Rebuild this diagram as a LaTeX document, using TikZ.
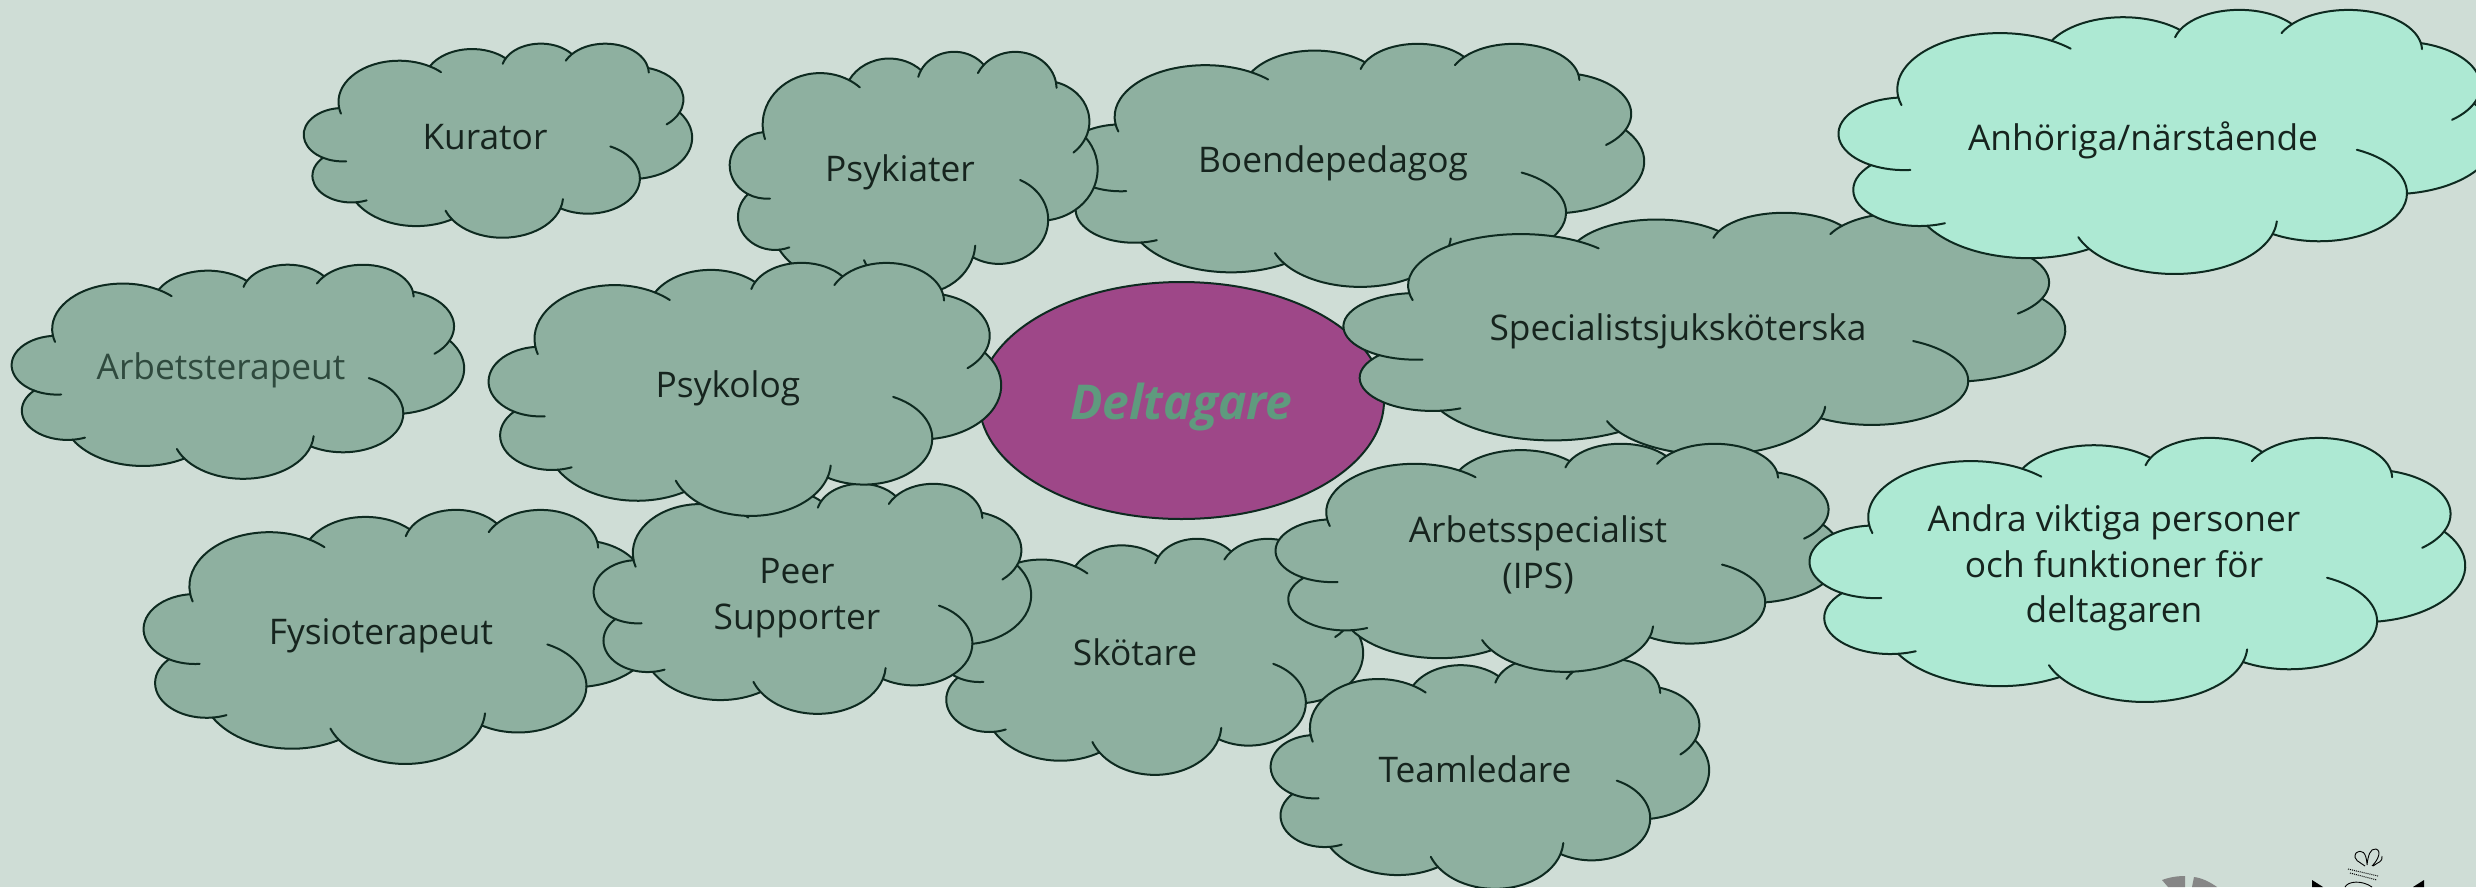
\documentclass[tikz,border=0pt]{standalone}
\usetikzlibrary{shapes.geometric}
\usepackage{fontspec}
\setmainfont{Open Sans}
\definecolor{bgc}{HTML}{CFDDD6}
\definecolor{cloudc}{HTML}{8EB0A0}
\definecolor{lightc}{HTML}{ADE9D3}
\definecolor{magc}{HTML}{9E4788}
\definecolor{linec}{HTML}{0E2A20}
\definecolor{txtc}{HTML}{16241E}
\definecolor{fadec}{HTML}{2F4A3E}
\definecolor{delc}{HTML}{5F9A7E}
\def\px{3.9}\def\py{14.37}
\newcommand\defarc[5]{%
 \pgfmathsetmacro\ta{atan2(#2*sin(#4),#3*cos(#4))}%
 \pgfmathsetmacro\tb{atan2(#2*sin(#4+#5),#3*cos(#4+#5))}%
 \pgfmathsetmacro\dt{\tb-\ta}%
 \pgfmathsetmacro\dt{\dt<0 ? \dt+360 : \dt}%
 \pgfmathsetmacro\cx{\px-#2*cos(\ta)}%
 \pgfmathsetmacro\cy{\py-#3*sin(\ta)}%
 \pgfmathsetmacro\px{\cx+#2*cos(\tb)}%
 \pgfmathsetmacro\py{\cy+#3*sin(\tb)}%
 \expandafter\let\csname ta#1\endcsname\ta
 \expandafter\let\csname tb#1\endcsname\tb
 \expandafter\let\csname dt#1\endcsname\dt
 \expandafter\let\csname cx#1\endcsname\cx
 \expandafter\let\csname cy#1\endcsname\cy
 \expandafter\def\csname rx#1\endcsname{#2}%
 \expandafter\def\csname ry#1\endcsname{#3}%
}
\defarc{A}{6.753}{9.190}{-190.4875}{123.7805}
\defarc{B}{5.333}{7.267}{-144.1024}{89.9452}
\defarc{C}{4.365}{5.945}{-145.8079}{99.7230}
\defarc{D}{4.857}{6.595}{-130.9861}{117.2417}
\defarc{E}{5.333}{7.273}{-78.7089}{109.0269}
\defarc{F}{6.775}{9.220}{-46.2673}{130.2690}
\defarc{G}{5.785}{7.867}{0.6250}{114.0333}
\defarc{H}{6.752}{9.215}{22.4516}{115.1726}
\defarc{I}{7.720}{10.543}{66.2426}{75.7111}
\defarc{J}{4.360}{5.918}{-274.9421}{146.7356}
\defarc{K}{4.345}{5.945}{-246.8285}{152.5189}
\tikzset{
 seg/.code={\edef\next{\noexpand\pgfkeysalso{/tikz/start angle=\csname ta#1\endcsname,
   /tikz/delta angle=\csname dt#1\endcsname,
   /tikz/x radius=\csname rx#1\endcsname cm,
   /tikz/y radius=\csname ry#1\endcsname cm}}\next},
 outline/.style={draw=linec,line width=2pt,line join=round},
 lbl/.style={font=\fontsize{35.3}{45.5}\selectfont,text=txtc,align=center,inner sep=0pt},
}
% #1 arc id, #2 x, #3 y: point on the ellipse, #4 ta or tb: where the hook meets the outline
\newcommand\hook[4]{%
 \edef\hcx{\csname cx#1\endcsname}\edef\hcy{\csname cy#1\endcsname}%
 \edef\hrx{\csname rx#1\endcsname}\edef\hry{\csname ry#1\endcsname}%
 \edef\hend{\csname #4#1\endcsname}%
 \pgfmathsetmacro\hs{atan2((#3-\hcy)/\hry,(#2-\hcx)/\hrx)}%
 \pgfmathsetmacro\hd{mod(\hend-\hs+540,360)-180}%
 \draw[outline,line cap=round] ({(\hcx+\hrx*cos(\hs))*1cm},{(\hcy+\hry*sin(\hs))*1cm})
   arc[start angle=\hs,delta angle=\hd,x radius=\hrx cm,y radius=\hry cm];
}
% #1 fill, #2 x0, #3 y0, #4 x1, #5 y1 (pixels, y down)
\newcommand\cloudshape[5]{%
 \pgfmathsetmacro\sx{(#4-#2)/1229.158}%
 \pgfmathsetmacro\sy{-(#5-#3)/1229.158}%
 \begin{scope}[shift={(#2pt,-#3pt)},xscale=\sx,yscale=\sy]
 \path[outline,fill=#1] (3.9cm,14.37cm) arc[seg=A] arc[seg=B] arc[seg=C] arc[seg=D] arc[seg=E]
    arc[seg=F] arc[seg=G] arc[seg=H] arc[seg=I] arc[seg=J] arc[seg=K] -- cycle;
 \hook{K}{4.693}{26.177}{ta}
 \hook{J}{6.928}{34.899}{ta}
 \hook{H}{15.87}{37.28}{tb}
 \hook{H}{28.827}{34.751}{ta}
 \hook{G}{34.129}{22.954}{ta}
 \hook{E}{40.23}{17.9}{tb}
 \hook{D}{38.3}{6.58}{tb}
 \hook{D}{29.0}{3.85}{ta}
 \hook{C}{22.2}{4.65}{ta}
 \hook{A}{15.3}{6.43}{tb}
 \hook{A}{4.25}{15.68}{ta}
 \end{scope}
}
\begin{document}
\begin{tikzpicture}
\useasboundingbox (0pt,0pt) rectangle (2476pt,-887pt);
\clip (0pt,0pt) rectangle (2476pt,-887pt);
\fill[bgc] (0pt,0pt) rectangle (2476pt,-887pt);
% logos cut by the lower edge
\fill[gray!95!white] (2162pt,-880pt) .. controls (2170pt,-877pt) and (2178pt,-876pt) .. (2185pt,-876pt) -- (2185pt,-887pt) -- (2168pt,-887pt) -- cycle;
\fill[gray!95!white] (2194pt,-877pt) .. controls (2202pt,-878pt) and (2210pt,-882pt) .. (2217pt,-887pt) -- (2192pt,-887pt) -- cycle;
\fill[black] (2312pt,-880pt) -- (2323pt,-887pt) -- (2312pt,-887pt) -- cycle;
\fill[black] (2424pt,-880pt) -- (2413pt,-887pt) -- (2424pt,-887pt) -- cycle;
\draw[black,line width=.9pt] (2365pt,-866pt) .. controls (2360pt,-862pt) and (2352pt,-860pt) .. (2356pt,-853pt) .. controls (2362pt,-849pt) and (2366pt,-852pt) .. (2367pt,-864pt)
  (2367pt,-865pt) .. controls (2368pt,-856pt) and (2370pt,-848pt) .. (2376pt,-849pt) .. controls (2382pt,-851pt) and (2378pt,-860pt) .. (2372pt,-866pt)
  (2373pt,-866pt) .. controls (2378pt,-862pt) and (2383pt,-862pt) .. (2382pt,-856pt);
\draw[black,line width=1pt,densely dotted] (2348pt,-869pt) -- (2378pt,-876pt) (2350pt,-873pt) -- (2377pt,-880pt);
\draw[black,line width=.9pt] (2345pt,-887pt) .. controls (2348pt,-881pt) and (2362pt,-880pt) .. (2372pt,-887pt);

\cloudshape{cloudc}{1063}{43}{1644}{286}
\node[lbl] (boende) at (1333pt,-163pt) {\strut Boendepedagog};
\cloudshape{cloudc}{730}{51}{1097.5}{293}
\node[lbl] (psykiater) at (900pt,-172pt) {\strut Psykiater};
\node[ellipse,draw=linec,line width=2pt,fill=magc,minimum width=405pt,minimum height=237pt,inner sep=0pt,
  text=delc,font=\fontsize{48}{54}\selectfont\bfseries\itshape] (deltagare) at (1181.5pt,-400.5pt) {\raisebox{-18.5pt}[0pt][0pt]{Deltagare}};
\cloudshape{cloudc}{1344}{212}{2065}{454}
\node[lbl] (specialist) at (1678pt,-331.5pt) {\strut Specialistsjuksköterska};
\cloudshape{lightc}{1839}{9}{2495}{273}
\node[lbl] (anhoriga) at (2143pt,-141pt) {\strut Anhöriga/närstående};
\cloudshape{cloudc}{144}{509}{655}{763}
\node[lbl] (fysio) at (381pt,-635pt) {\strut Fysioterapeut};
\cloudshape{cloudc}{937}{538}{1363}{774}
\node[lbl] (skotare) at (1135pt,-656pt) {\strut Skötare};
\cloudshape{cloudc}{594}{483}{1031}{713}
\node[lbl] (peer) at (797pt,-597.5pt) {\strut Peer\\\strut Supporter};
\cloudshape{cloudc}{489}{262}{1001}{515}
\node[lbl] (psykolog) at (728pt,-388pt) {\strut Psykolog};
\cloudshape{cloudc}{1271}{658}{1709}{888}
\node[lbl] (team) at (1475pt,-773pt) {\strut Teamledare};
\cloudshape{cloudc}{1276}{443}{1841}{671}
\node[lbl] (arbets) at (1538pt,-556.5pt) {\strut Arbetsspecialist\\\strut (IPS)};
\cloudshape{lightc}{1810}{437}{2465}{701}
\node[lbl] (andra) at (2114pt,-568pt) {\strut Andra viktiga personer\\\strut och funktioner för\\\strut deltagaren};
\cloudshape{cloudc}{304}{43}{692}{237}
\node[lbl] (kurator) at (485pt,-140pt) {\strut Kurator};
\cloudshape{cloudc}{12}{264}{464}{478}
\node[lbl,text=fadec] (arbetsterapeut) at (221pt,-370pt) {\strut Arbetsterapeut};
\end{tikzpicture}
\end{document}
